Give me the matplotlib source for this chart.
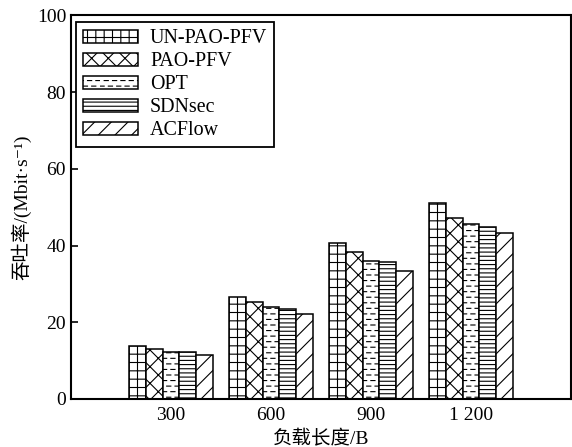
import numpy as np
import matplotlib
matplotlib.use("Agg")
import matplotlib.pyplot as plt
from matplotlib import hatch as mhatch
from matplotlib.path import Path

# Data
loads = ["300", "600", "900", "1 200"]
schemes = ["UN-PAO-PFV", "PAO-PFV", "OPT", "SDNsec", "ACFlow"]
un_pao_pfv = [13.8, 26.7, 40.6, 51.1]
pao_pfv = [13.0, 25.2, 38.4, 47.3]
opt = [12.3, 23.9, 36.1, 45.6]
sdnsec = [12.2, 23.4, 35.8, 44.8]
acflow = [11.4, 22.2, 33.5, 43.2]
series = [un_pao_pfv, pao_pfv, opt, sdnsec, acflow]
hatches = ["++", "xx", "...", "----", "//"]


# staggered dashed horizontal hatch, bound to '.'
class DashedHatch(mhatch.HatchPatternBase):
    def __init__(self, hatch, density):
        self.num_rows = int(hatch.count('.') * density)
        if self.num_rows % 2:
            self.num_rows += 1
        self.num_dash = max(1, self.num_rows * 2 // 3)
        self.num_vertices = self.num_rows * self.num_dash * 2

    def set_vertices_and_codes(self, vertices, codes):
        p = 1.0 / self.num_dash
        i = 0
        for r in range(self.num_rows):
            y = (r + 0.5) / self.num_rows
            off = 0.0 if r % 2 == 0 else p / 2
            for k in range(self.num_dash):
                x0 = off + k * p
                vertices[i] = (x0, y)
                vertices[i + 1] = (x0 + p / 2, y)
                codes[i] = Path.MOVETO
                codes[i + 1] = Path.LINETO
                i += 2


mhatch._hatch_types = [h for h in mhatch._hatch_types
                       if h is not mhatch.SmallFilledCircles] + [DashedHatch]

plt.rcParams["font.family"] = ["Liberation Serif", "Noto Sans CJK SC", "DejaVu Serif"]
plt.rcParams["hatch.linewidth"] = 0.8

fig = plt.figure(figsize=(5.72, 4.47), dpi=100)
ax = fig.add_axes([0.1241, 0.1074, 0.874, 0.858])

x = np.arange(1, len(loads) + 1)
width = 0.167
for i, (vals, name, h) in enumerate(zip(series, schemes, hatches)):
    ax.bar(x + (i - 2) * width, vals, width, label=name, color="white",
           edgecolor="black", linewidth=1.1, hatch=h)

ax.set_xlim(0, 5)
ax.set_ylim(0, 100)
ax.set_xticks(x)
ax.set_xticklabels(loads)
ax.set_yticks(np.arange(0, 101, 20))
ax.tick_params(axis="x", length=0, labelsize=14, pad=6)
ax.tick_params(axis="y", direction="in", length=5, width=1.2, labelsize=14)
for s in ax.spines.values():
    s.set_linewidth(1.5)

ax.set_xlabel("负载长度/B", fontsize=14, labelpad=4)
ax.set_ylabel("吞吐率/(Mbit·s⁻¹)", fontsize=14, labelpad=4)

leg = ax.legend(loc="upper left", bbox_to_anchor=(0.01, 0.982), fontsize=14.4,
                fancybox=False, framealpha=1, edgecolor="black",
                handlelength=2.75, handleheight=0.63, labelspacing=0.2,
                handletextpad=0.6, borderpad=0.35, borderaxespad=0)
leg.get_frame().set_linewidth(1.3)

fig.savefig("out.png", dpi=100)
